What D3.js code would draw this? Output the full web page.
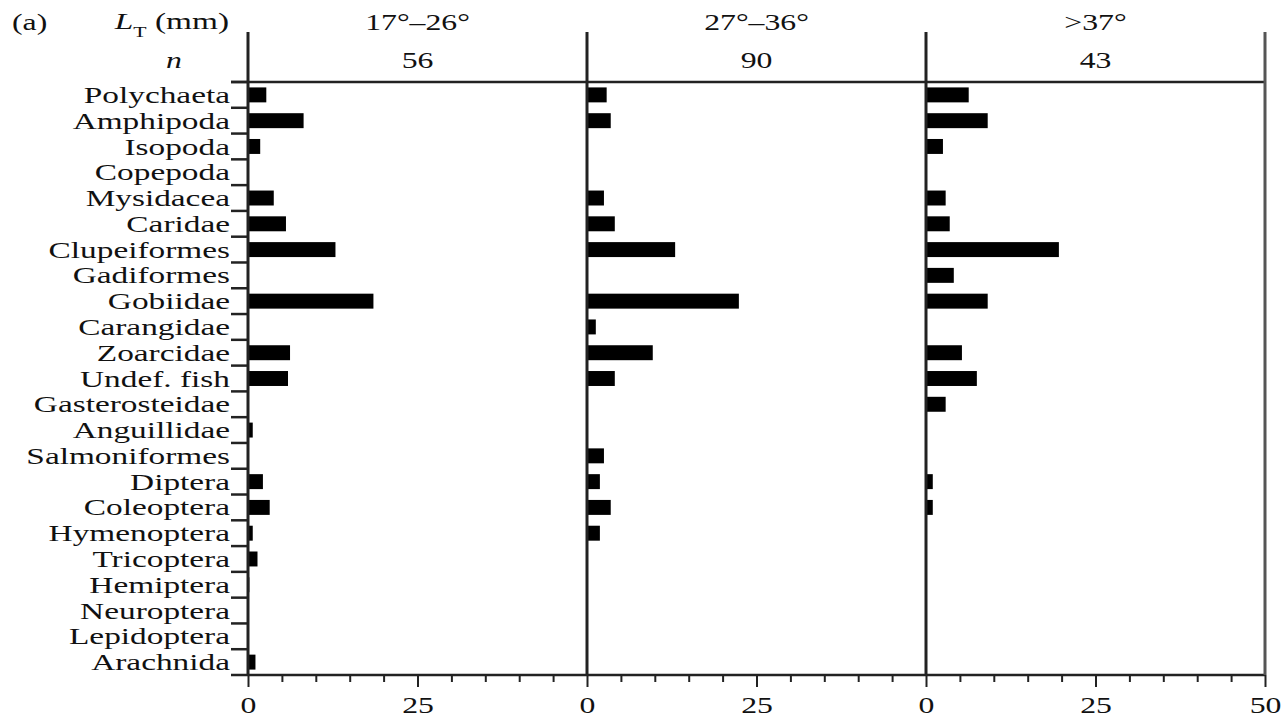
<!DOCTYPE html>
<html>
<head>
<meta charset="utf-8">
<script src="https://cdn.jsdelivr.net/npm/d3@7"></script>
<style>
  html, body { margin: 0; padding: 0; background: #fff; }
  svg text { font-family: "Liberation Serif", "DejaVu Serif", serif; fill: #111; }
</style>
</head>
<body>
<svg id="chart" width="1282" height="720"></svg>
<script>
// ---------------- DATA ----------------
const categories = ["Polychaeta","Amphipoda","Isopoda","Copepoda","Mysidacea","Caridae",
  "Clupeiformes","Gadiformes","Gobiidae","Carangidae","Zoarcidae","Undef. fish",
  "Gasterosteidae","Anguillidae","Salmoniformes","Diptera","Coleoptera","Hymenoptera",
  "Tricoptera","Hemiptera","Neuroptera","Lepidoptera","Arachnida"];
const values17_26 = [2.7, 8.2, 1.8, 0, 3.8, 5.6, 12.9, 0, 18.5, 0, 6.2, 5.9,
  0, 0.7, 0, 2.2, 3.2, 0.7, 1.4, 0.2, 0, 0, 1.1];
const values27_36 = [2.9, 3.5, 0, 0, 2.5, 4.1, 13.0, 0, 22.4, 1.3, 9.7, 4.1,
  0, 0, 2.5, 1.9, 3.5, 1.9, 0, 0, 0, 0, 0];
const values37 = [6.3, 9.1, 2.5, 0, 2.9, 3.5, 19.6, 4.1, 9.1, 0, 5.3, 7.5,
  2.9, 0, 0, 1.0, 1.0, 0, 0, 0, 0, 0, 0];
const panelTitles = ["17°–26°", "27°–36°", ">37°"];
const panelN = ["56", "90", "43"];
const tickLabels = {0: "0", 25: "25", 50: "50"};
const panelTicks = [[0,5,10,15,20,25,30,35,40,45],[0,5,10,15,20,25,30,35,40,45],[0,5,10,15,20,25,30,35,40,45,50]];

// ---------------- LAYOUT ----------------
const svg = d3.select("#chart");
const FS = 23, SX = 1.38, SXL = 1.45;
const plotLeft = 248, panelW = 339, plotTop = 82, plotBottom = 675, lineTop = 32;
const series = [values17_26, values27_36, values37];

const y = d3.scaleBand().domain(categories).range([plotTop, plotBottom])
  .paddingInner(0.42).paddingOuter(0.21);
const step = y.step();

const xs = series.map((s, i) => d3.scaleLinear().domain([0, 50])
  .range([plotLeft + i * panelW, plotLeft + (i + 1) * panelW]));

function stext(g, x, yy, str, anchor, sx) {
  const t = g.append("text")
    .attr("transform", `translate(${x},${yy}) scale(${sx || SX},1)`)
    .attr("text-anchor", anchor)
    .attr("font-size", FS)
    .attr("dy", "0.35em");
  if (str !== null) t.text(str);
  return t;
}

// bars
series.forEach((vals, i) => {
  svg.append("g").selectAll("rect")
    .data(categories.map((c, j) => ({c, v: vals[j]})).filter(d => d.v > 0))
    .join("rect")
    .attr("x", xs[i](0))
    .attr("y", d => y(d.c))
    .attr("width", d => xs[i](d.v) - xs[i](0))
    .attr("height", y.bandwidth())
    .attr("fill", "#000");
});

// bottom axes
series.forEach((vals, i) => {
  const ax = d3.axisBottom(xs[i]).tickValues(panelTicks[i])
    .tickSize(7).tickPadding(15)
    .tickFormat(d => tickLabels[d] !== undefined ? tickLabels[d] : "");
  const g = svg.append("g").attr("transform", `translate(0,${plotBottom})`).call(ax);
  g.select(".domain").remove();
  g.selectAll(".tick line").attr("stroke", "#222").attr("stroke-width", 2)
    .attr("y2", d => (d % 25 === 0) ? 12 : 7);
  g.selectAll(".tick text").attr("font-size", FS)
    .attr("font-family", "Liberation Serif")
    .attr("fill", "#111")
    .attr("transform", `scale(${SX},1)`);
});

// frame lines
const lines = svg.append("g").attr("stroke", "#222");
lines.append("line").attr("x1", plotLeft - 17).attr("x2", xs[2](50))
  .attr("y1", plotTop).attr("y2", plotTop).attr("stroke-width", 2.5);
lines.append("line").attr("x1", plotLeft - 17).attr("x2", xs[2](50))
  .attr("y1", plotBottom).attr("y2", plotBottom).attr("stroke-width", 2.5);
[xs[0](0), xs[1](0), xs[2](0), xs[2](50)].forEach((x, i) => {
  lines.append("line").attr("x1", x).attr("x2", x)
    .attr("y1", lineTop).attr("y2", plotBottom)
    .attr("stroke-width", 3).attr("stroke", i === 3 ? "#555" : "#222");
});

// category ticks at band boundaries
const bounds = categories.map(c => y(c) + y.bandwidth() / 2 - step / 2);
lines.selectAll("line.ct").data(bounds).join("line").attr("class", "ct")
  .attr("x1", plotLeft - 17).attr("x2", plotLeft).attr("y1", d => d).attr("y2", d => d)
  .attr("stroke-width", 2.5);

// category labels
const lab = svg.append("g");
categories.forEach(c => stext(lab, 230, y(c) + y.bandwidth() / 2, c, "end", SXL));

// header
const hd = svg.append("g");
stext(hd, 12, 22, "(a)", "start");
const lt = stext(hd, 229, 21, null, "end", SXL);
lt.append("tspan").attr("font-style", "italic").text("L");
lt.append("tspan").attr("font-size", 15).attr("dy", 8).text("T");
lt.append("tspan").attr("dy", -8).text(" (mm)");
stext(hd, 174, 60, "n", "middle").attr("font-style", "italic");
panelTitles.forEach((t, i) => {
  const cx = (xs[i](0) + xs[i](50)) / 2;
  stext(hd, cx, 22, t, "middle");
  stext(hd, cx, 60, panelN[i], "middle");
});
</script>
</body>
</html>
